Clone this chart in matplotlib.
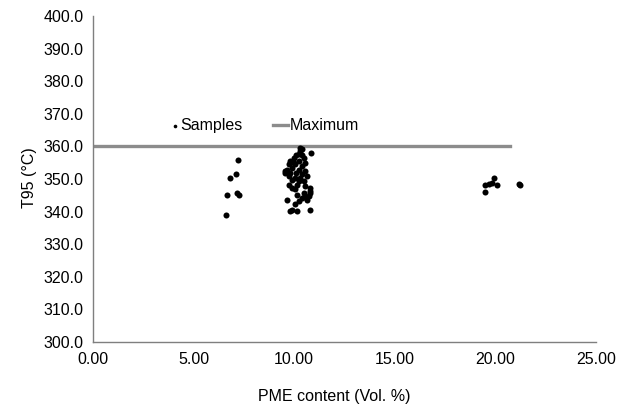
import matplotlib
matplotlib.use("Agg")
import matplotlib.pyplot as plt

plt.rcParams['font.family'] = ['Liberation Sans Narrow', 'Liberation Sans', 'DejaVu Sans']

# PME content (Vol. %) and T95 (°C) of the samples
pme_left = [7.22, 7.09, 6.80, 6.67, 7.14, 7.27, 6.59]
t95_left = [355.7, 351.6, 350.2, 345.0, 345.8, 345.2, 338.8]

pme_mid = [10.39, 10.30, 10.84, 10.22, 10.10, 10.39, 9.97, 10.47, 9.80, 10.22,
           10.55, 9.72, 10.05, 10.39, 9.64, 9.89, 10.22, 10.55, 9.55, 9.80,
           10.10, 10.39, 9.72, 10.05, 10.30, 10.64, 9.89, 10.22, 10.47, 10.14,
           10.55, 9.89, 10.80, 10.05, 10.80, 10.47, 10.14, 10.72, 9.64, 10.39,
           10.64, 10.22, 10.05, 9.89, 10.80, 10.14, 9.80, 10.30, 10.55, 10.80,
           9.55, 9.97, 9.72]
t95_mid = [359.2, 358.5, 358.0, 357.6, 357.5, 357.5, 356.5, 356.5, 355.5, 355.5,
           355.0, 354.5, 354.5, 353.9, 352.9, 353.4, 352.9, 352.4, 351.9, 351.9,
           351.9, 351.4, 350.9, 350.4, 350.4, 350.9, 349.8, 349.3, 349.3, 348.3,
           347.8, 347.3, 347.3, 346.8, 346.2, 345.8, 345.2, 344.7, 343.7, 344.2,
           343.7, 343.2, 342.2, 340.6, 340.6, 340.1, 340.1, 359.4, 344.7, 345.8,
           352.5, 355.0, 348.0]

pme_right = [19.50, 19.67, 19.92, 19.84, 20.09, 19.47, 21.17, 21.23]
t95_right = [348.3, 348.6, 350.4, 348.8, 348.0, 346.0, 348.6, 348.1]

max_x = [0.0, 20.7]
max_y = [360.0, 360.0]

xticks = [0, 5, 10, 15, 20, 25]
yticks = [300, 310, 320, 330, 340, 350, 360, 370, 380, 390, 400]

fig = plt.figure(figsize=(6.44, 4.09), dpi=100)
ax = fig.add_axes([0.1444, 0.1638, 0.7811, 0.7972])

xs = pme_left + pme_mid + pme_right
ys = t95_left + t95_mid + t95_right
sc = ax.scatter(xs, ys, s=19, color='black', linewidths=0, label='Samples', zorder=3)
ln, = ax.plot(max_x, max_y, color='#8c8c8c', lw=2.4, label='Maximum', zorder=2)

ax.set_xlim(0, 25)
ax.set_ylim(300, 400)
ax.set_xticks(xticks)
ax.set_yticks(yticks)
ax.set_xticklabels([f'{v:.2f}' for v in xticks])
ax.set_yticklabels([f'{v:.1f}' for v in yticks])
ax.tick_params(length=0, labelsize=11.5, pad=7)

for s in ['top', 'right']:
    ax.spines[s].set_visible(False)
for s in ['left', 'bottom']:
    ax.spines[s].set_color('#7f7f7f')
    ax.spines[s].set_linewidth(1.0)

ax.set_xlabel('PME content (Vol. %)', fontsize=11.5)
ax.set_ylabel('T95 (°C)', fontsize=11.5)
ax.xaxis.set_label_coords(0.479, -0.145)
ax.yaxis.set_label_coords(-0.112, 0.503)

# two legend pieces, as in the original layout
leg1 = ax.legend(handles=[sc], loc='center left', bbox_to_anchor=(0.157, 0.663),
                 frameon=False, fontsize=11.5, handlelength=0.4, handletextpad=0.1,
                 markerscale=0.6, borderpad=0, borderaxespad=0)
ax.add_artist(leg1)
ax.legend(handles=[ln], loc='center left', bbox_to_anchor=(0.358, 0.663),
          frameon=False, fontsize=11.5, handlelength=0.95, handletextpad=0.1,
          borderpad=0, borderaxespad=0)

fig.savefig('out.png', dpi=100)
